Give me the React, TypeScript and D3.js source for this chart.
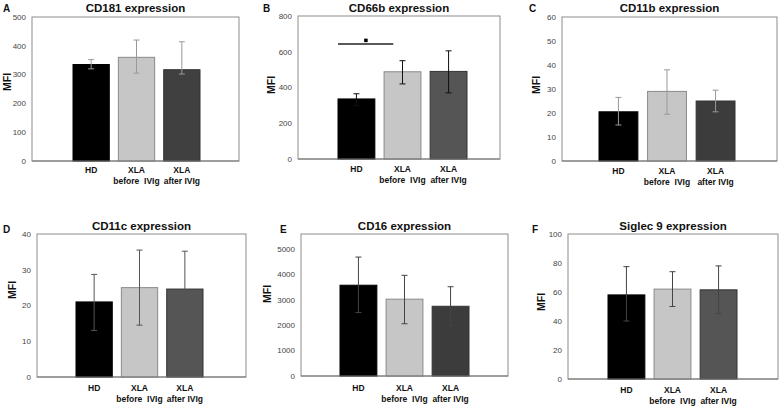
import React from "react";
import * as d3 from "d3";

const categories = ["HD", "XLA|before  IVIg", "XLA|after IVIg"];
const panelLetters = ["A", "B", "C", "D", "E", "F"];
const panelTitles = ["CD181 expression", "CD66b expression", "CD11b expression", "CD11c expression", "CD16 expression", "Siglec 9 expression"];
const yMax = [500, 800, 60, 40, 5600, 100];
const yStep = [100, 200, 10, 10, 1000, 20];
const tickMax = [500, 800, 60, 40, 5000, 100];
const means = [
  [335, 360, 317],
  [336, 488, 490],
  [20.5, 29, 25],
  [21, 25, 24.6],
  [3580, 3030, 2750],
  [58, 62, 61.5],
];
const errLow = [
  [320, 305, 302],
  [300, 420, 370],
  [15, 19.5, 20.5],
  [13, 14.5, 13.8],
  [2500, 2060, 1970],
  [40, 50, 45],
];
const errHigh = [
  [352, 420, 414],
  [365, 550, 605],
  [26.5, 38, 29.5],
  [28.7, 35.5, 35.2],
  [4690, 3970, 3520],
  [77.5, 74, 78],
];
const sigLineValue = 643;
const sigMarkValue = 665;

// layout (positions / styles)
const layouts = [
  { x0: 32, x1: 239, y0: 17, y1: 161, b0: 73, b1: 200, lx: 3, ly: 12, ty: 12, mx: 7, my: 82, lab: 12, after: "#404040", err: "#999" },
  { x0: 298, x1: 500, y0: 16, y1: 159, b0: 338, b1: 467, lx: 263, ly: 12, ty: 12, mx: 271, my: 85, lab: 13, after: "#555555", err: "#111" },
  { x0: 562, x1: 777, y0: 17, y1: 161, b0: 599, b1: 735, lx: 529, ly: 12, ty: 12, mx: 536, my: 85, lab: 12.5, after: "#3c3c3c", err: "#999" },
  { x0: 37, x1: 246, y0: 234, y1: 377, b0: 76, b1: 203, lx: 3, ly: 233, ty: 230, mx: 12, my: 290, lab: 14, after: "#555555", err: "#555" },
  { x0: 301, x1: 508, y0: 234, y1: 376, b0: 340, b1: 469, lx: 280, ly: 233, ty: 230, mx: 267, my: 294, lab: 15, after: "#3c3c3c", err: "#444" },
  { x0: 568, x1: 778, y0: 234, y1: 379, b0: 608, b1: 737, lx: 532, ly: 233, ty: 230, mx: 541, my: 302, lab: 14, after: "#555555", err: "#444" },
];

const FONT = "'Liberation Sans', Arial, sans-serif";

function Panel({ i }: { i: number }) {
  const L = layouts[i];
  const y = d3.scaleLinear().domain([0, yMax[i]]).range([L.y1, L.y0]);
  const x = d3.scaleBand<string>().domain(categories).range([L.b0, L.b1]).paddingInner(0.2).paddingOuter(0);
  const ticks = d3.range(0, tickMax[i] + yStep[i] / 2, yStep[i]);
  const fills = ["#000000", "#c6c6c6", L.after];
  const strokes = ["#000000", "#8a8a8a", "#333333"];
  const bw = x.bandwidth();
  return (
    <g>
      <rect x={L.x0} y={L.y0} width={L.x1 - L.x0} height={L.y1 - L.y0} fill="#fff" stroke="#8c8c8c" strokeWidth={1} />
      {ticks.map((t) => (
        <text key={t} x={L.x0 - 6} y={y(t)} dy="0.35em" textAnchor="end" fontSize={8} fill="#444" fontFamily={FONT}>
          {t}
        </text>
      ))}
      {categories.map((c, j) => (
        <g key={c}>
          <rect x={x(c)} y={y(means[i][j])} width={bw} height={L.y1 - y(means[i][j])} fill={fills[j]} stroke={strokes[j]} strokeWidth={1} />
          <line x1={x(c)! + bw / 2} x2={x(c)! + bw / 2} y1={y(errLow[i][j])} y2={y(errHigh[i][j])} stroke={L.err} strokeWidth={1} />
          <line x1={x(c)! + bw / 2 - 3} x2={x(c)! + bw / 2 + 3} y1={y(errLow[i][j])} y2={y(errLow[i][j])} stroke={L.err} strokeWidth={1} />
          <line x1={x(c)! + bw / 2 - 3} x2={x(c)! + bw / 2 + 3} y1={y(errHigh[i][j])} y2={y(errHigh[i][j])} stroke={L.err} strokeWidth={1} />
          {c.split("|").map((s, k) => (
            <text key={k} x={x(c)! + bw / 2} y={L.y1 + L.lab + k * 11} textAnchor="middle" fontSize={8.5} fontWeight="bold" fill="#111" fontFamily={FONT} style={{ whiteSpace: "pre" }}>
              {s}
            </text>
          ))}
        </g>
      ))}
      <line x1={L.x0} x2={L.x1} y1={L.y1} y2={L.y1} stroke="#777" strokeWidth={1} />
      <text x={(L.x0 + L.x1) / 2} y={L.ty} textAnchor="middle" fontSize={11.5} fontWeight="bold" fill="#111" fontFamily={FONT}>
        {panelTitles[i]}
      </text>
      <text x={L.lx} y={L.ly} fontSize={10} fontWeight="bold" fill="#111" fontFamily={FONT}>
        {panelLetters[i]}
      </text>
      <text transform={`translate(${L.mx},${L.my}) rotate(-90)`} textAnchor="middle" dy="0.35em" fontSize={10.5} fontWeight="bold" fill="#111" fontFamily={FONT}>
        MFI
      </text>
      {i === 1 && (
        <g>
          <line x1={x(categories[0])!} x2={x(categories[1])! + bw * 0.25} y1={y(sigLineValue)} y2={y(sigLineValue)} stroke="#222" strokeWidth={1.5} />
          <rect x={(x(categories[0])! + x(categories[1])! + bw * 0.25) / 2 - 1.5} y={y(sigMarkValue) - 1.5} width={3.5} height={3.5} fill="#000" />
        </g>
      )}
    </g>
  );
}

export default function App() {
  return (
    <div style={{ position: "absolute", left: 0, top: 0 }}>
      <svg width={780} height={406} style={{ display: "block", background: "#fff" }}>
        {layouts.map((_, i) => (
          <Panel key={i} i={i} />
        ))}
      </svg>
    </div>
  );
}
